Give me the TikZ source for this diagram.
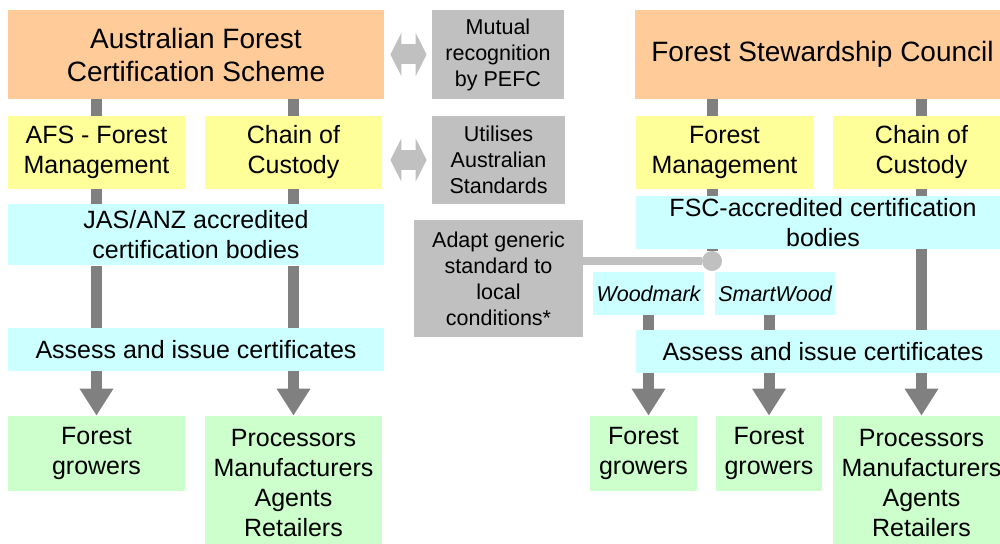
\documentclass[tikz,border=0pt]{standalone}
\usepackage{fontspec}
\setmainfont{Liberation Sans}
\usepackage{tikz}
\usetikzlibrary{arrows.meta}
\definecolor{peach}{HTML}{FFCC99}
\definecolor{lemon}{HTML}{FFFF99}
\definecolor{aqua}{HTML}{CCFFFF}
\definecolor{mint}{HTML}{CCFFCC}
\definecolor{noteGray}{HTML}{C0C0C0}
\definecolor{barGray}{HTML}{808080}
\tikzstyle{box} = [rectangle, inner sep=0pt, align=center, text centered]
\tikzstyle{scheme} = [box, fill=peach, font=\fontsize{14}{16.5}\selectfont]
\tikzstyle{stage} = [box, fill=lemon, font=\fontsize{12.5}{15}\selectfont]
\tikzstyle{agency} = [box, fill=aqua, font=\fontsize{12.5}{15}\selectfont]
\tikzstyle{brand} = [box, fill=aqua, font=\fontsize{10.75}{13}\selectfont\itshape]
\tikzstyle{outcome} = [box, fill=mint, font=\fontsize{12.5}{15}\selectfont]
\tikzstyle{note} = [box, fill=noteGray, font=\fontsize{10.75}{13}\selectfont]
\tikzstyle{bar} = [line width=5.5pt, draw=barGray]
\tikzstyle{arrow} = [bar, -{Triangle[width=16pt,length=13.5pt]}]
\tikzstyle{link} = [line width=4pt, draw=noteGray]
\tikzstyle{twoway} = [line width=10pt, draw=noteGray, {Triangle[width=21.5pt,length=5.5pt]}-{Triangle[width=21.5pt,length=5.5pt]}, shorten <=3pt, shorten >=2.5pt]

\begin{document}
\begin{tikzpicture}[x=0.5pt, y=-0.5pt]
            \useasboundingbox (0,0) rectangle (1000,544);
            \clip (0,0) rectangle (1000,544);

            \node (afcs)   [scheme, minimum width=188pt, minimum height=44.5pt]  at (196,54.5)   {Australian Forest\\Certification Scheme};
            \node (pefc)   [note, minimum width=66pt, minimum height=44.5pt]     at (498,54.5)   {Mutual\\recognition\\by PEFC};
            \node (fsc)    [scheme, minimum width=187.5pt, minimum height=44.5pt] at (822.5,54.5) {Forest Stewardship Council};

            \node (afsfm)  [stage, minimum width=88.5pt, minimum height=36.5pt]  at (96.5,152.5)  {AFS - Forest\\Management};
            \node (coc1)   [stage, minimum width=88.5pt, minimum height=36.5pt]  at (293.5,152.5) {Chain of\\Custody};
            \node (utils)  [note, minimum width=66.5pt, minimum height=44pt]     at (498.5,160)   {Utilises\\Australian\\Standards};
            \node (fm)     [stage, minimum width=88.5pt, minimum height=36.5pt]  at (724.5,152.5) {Forest\\Management};
            \node (coc2)   [stage, minimum width=88.5pt, minimum height=36.5pt]  at (921.5,152.5) {Chain of\\Custody};

            \node (jas)    [agency, minimum width=188pt, minimum height=30.5pt]  at (196,235)     {JAS/ANZ accredited\\certification bodies};
            \node (fscab)  [agency, minimum width=187pt, minimum height=26.5pt]  at (823,222.5)   {FSC-accredited certification\\bodies};
            \node (adapt)  [note, minimum width=84.5pt, minimum height=58.5pt]   at (498.5,278.5) {Adapt generic\\standard to\\local\\conditions*};
            \node (wood)   [brand, minimum width=55.5pt, minimum height=21.5pt]  at (648.5,293.5) {Woodmark};
            \node (smart)  [brand, minimum width=60pt, minimum height=21.5pt]    at (775,293.5)   {SmartWood};

            \node (assessL) [agency, minimum width=188pt, minimum height=21.5pt] at (196,349.5)   {Assess and issue certificates};
            \node (assessR) [agency, minimum width=187pt, minimum height=21.5pt] at (823,351.5)   {Assess and issue certificates};

            \node (grL)    [outcome, minimum width=88.5pt, minimum height=37.5pt] at (96.5,453.5)  {Forest\\growers};
            \node (procL)  [outcome, minimum width=88.5pt, minimum height=67.5pt] at (293.5,483.5) {Processors\\Manufacturers\\Agents\\Retailers};
            \node (grR1)   [outcome, minimum width=53.5pt, minimum height=37.5pt] at (643.5,453.5) {Forest\\growers};
            \node (grR2)   [outcome, minimum width=53pt, minimum height=37.5pt]   at (769,453.5)   {Forest\\growers};
            \node (procR)  [outcome, minimum width=88.5pt, minimum height=67.5pt] at (921.5,483.5) {Processors\\Manufacturers\\Agents\\Retailers};

            \node (junc)   [circle, fill=noteGray, inner sep=0pt, minimum size=10pt] at (712,261) {};

            \draw [twoway] (afcs.east) -- (pefc.west);
            \draw [twoway, shorten <=4pt] (utils.west -| coc1.east) -- (utils.west);

            \draw [bar] (afsfm.north |- afcs.south) -- (afsfm.north);
            \draw [bar] (afsfm.south) -- (afsfm.south |- jas.north);
            \draw [bar] (afsfm.south |- jas.south) -- (afsfm.south |- assessL.north);
            \draw [arrow] (grL.north |- assessL.south) -- (grL.north);

            \draw [bar] (coc1.north |- afcs.south) -- (coc1.north);
            \draw [bar] (coc1.south) -- (coc1.south |- jas.north);
            \draw [bar] (coc1.south |- jas.south) -- (coc1.south |- assessL.north);
            \draw [arrow] (procL.north |- assessL.south) -- (procL.north);

            \draw [bar] (junc |- fsc.south) -- (junc |- fm.north);
            \draw [bar] (junc |- fm.south) -- (junc |- fscab.north);
            \draw [bar] (junc |- fscab.south) -- (junc.north);
            \draw [link] (adapt.east |- junc) -- (junc.west);

            \draw [bar] (wood.south) -- (wood.south |- assessR.north);
            \draw [arrow] (wood.south |- assessR.south) -- (wood.south |- grR1.north);
            \draw [bar] (grR2.north |- smart.south) -- (grR2.north |- assessR.north);
            \draw [arrow] (grR2.north |- assessR.south) -- (grR2.north);

            \draw [bar] (coc2.north |- fsc.south) -- (coc2.north);
            \draw [bar] (coc2.south) -- (coc2.south |- fscab.north);
            \draw [bar] (coc2.south |- fscab.south) -- (coc2.south |- assessR.north);
            \draw [arrow] (procR.north |- assessR.south) -- (procR.north);
        \end{tikzpicture}
\end{document}
